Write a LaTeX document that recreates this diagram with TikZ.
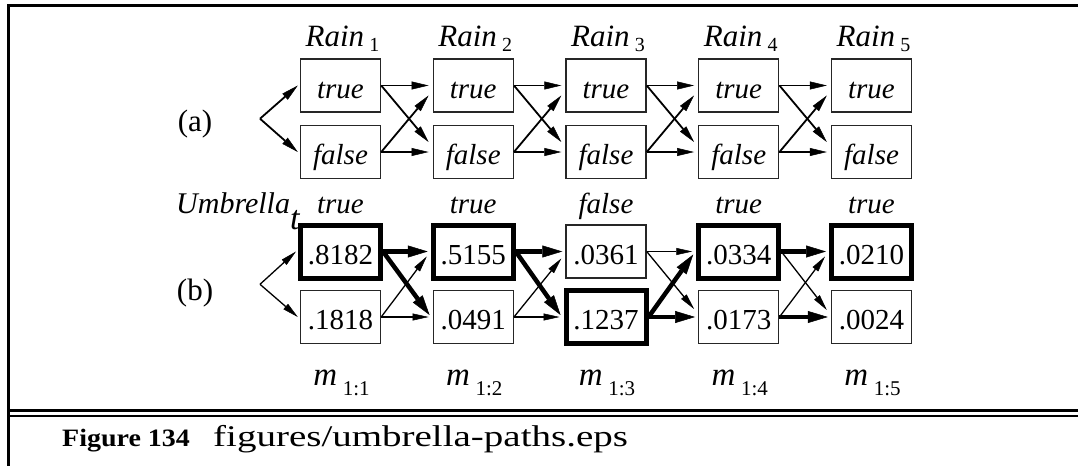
\documentclass[tikz,border=0pt]{standalone}
\usepackage{fontspec}
\setmainfont{Liberation Serif}
\newfontfamily\capfont[FakeStretch=1.3]{Liberation Serif}
\newfontfamily\figfont[FakeStretch=1.12]{Liberation Serif}
\usetikzlibrary{arrows.meta}
\newcommand{\lowsub}[3]{\raisebox{-#1}{\fontsize{#2}{#2}\selectfont #3}}
\tikzset{
  every node/.append style={font=\fontsize{29}{32}\selectfont},
  box/.style={draw=black!85, line width=1.4pt, minimum width=80pt, minimum height=53pt,
    inner sep=0pt, text height=25.4pt, text depth=0pt},
  thickbox/.style={box, draw=black, line width=5pt},
  arr/.style={line width=1.8pt, -{Triangle[length=17pt,width=8pt,line width=0.5pt]}},
  thinarr/.style={line width=1.3pt, -{Triangle[length=16pt,width=7pt,line width=0.5pt]}},
  fatarr/.style={line width=4.5pt, -{Triangle[length=20pt,width=12pt,line width=0.5pt]}},
  frame/.style={line width=2.7pt},
  lbl/.style={anchor=base, inner sep=0pt},
  biglbl/.style={lbl, font=\fontsize{31}{34}\selectfont}
}
\begin{document}
\begin{tikzpicture}[x=1pt,y=-1pt]
\useasboundingbox (0,0) rectangle (1078,466);
% frame
\draw[frame] (7,5.3) -- (1078,5.3);
\draw[frame] (8.5,4) -- (8.5,466);
\draw[line width=2.5pt] (8.5,410.3) -- (1078,410.3);
\draw[line width=2pt] (8.5,416) -- (1078,416);

% (a) part
\node[biglbl] (la) at (195,131.4) {(a)};
\foreach \i/\x in {1/340.5, 2/473.25, 3/606, 4/738.75, 5/871.5} {
  \node[biglbl] (rain\i) at (\x+2,46.5) {\textit{Rain}\,\lowsub{5pt}{20}{\i}};
  \node[box] (t\i) at (\x,85.5) {\textit{true}};
  \node[box] (f\i) at (\x,152) {\textit{false}};
}
\coordinate (sa) at (260,118.7);
\draw[arr] (sa) -- ([xshift=-2pt]t1.west);
\draw[arr] (sa) -- ([xshift=-2pt]f1.west);
\foreach \i/\j in {1/2,2/3,3/4,4/5} {
  \draw[arr] (t\i.east) -- ([xshift=-4pt]t\j.west);
  \draw[arr] (f\i.east) -- ([xshift=-4pt]f\j.west);
  \draw[arr] (t\i.east) -- ([xshift=-4pt,yshift=10pt]f\j.west);
  \draw[arr] (f\i.east) -- ([xshift=-4pt,yshift=-10pt]t\j.west);
}

% (b) part
\node[anchor=base west, inner sep=0pt, font=\fontsize{30}{32}\selectfont] (umb) at (176,213.3) {\textit{Umbrella}\lowsub{16pt}{34}{\textit{t}}};
\node[lbl] (u1) at (340.5,213.3) {\textit{true}};
\node[lbl] (u2) at (473.25,213.3) {\textit{true}};
\node[lbl] (u3) at (606,213.3) {\textit{false}};
\node[lbl] (u4) at (738.75,213.3) {\textit{true}};
\node[lbl] (u5) at (871.5,213.3) {\textit{true}};
\node[biglbl] (lb) at (195,300) {(b)};

\node[thickbox] (a1) at (340.5,251.5) {.8182};
\node[box]      (b1) at (340.5,317) {.1818};
\node[thickbox] (a2) at (473.25,251.5) {.5155};
\node[box]      (b2) at (473.25,317) {.0491};
\node[box]      (a3) at (606,251.5) {.0361};
\node[thickbox] (b3) at (606,317) {.1237};
\node[thickbox] (a4) at (738.75,251.5) {.0334};
\node[box]      (b4) at (738.75,317) {.0173};
\node[thickbox] (a5) at (871.5,251.5) {.0210};
\node[box]      (b5) at (871.5,317) {.0024};

\coordinate (sb) at (260,284.3);
\draw[thinarr] (sb) -- ([xshift=-2pt]a1.west);
\draw[thinarr] (sb) -- ([xshift=-2pt]b1.west);

% 1 -> 2
\draw[fatarr]  (a1.east) -- ([xshift=-3pt]a2.west);
\draw[fatarr]  (a1.east) -- ([xshift=-3pt,yshift=2pt]b2.west);
\draw[thinarr] (b1.east) -- ([xshift=-4pt,yshift=-5pt]a2.west);
\draw[thinarr] (b1.east) -- ([xshift=-4pt]b2.west);
% 2 -> 3
\draw[fatarr]  (a2.east) -- ([xshift=-3pt]a3.west);
\draw[fatarr]  (a2.east) -- ([xshift=-3pt,yshift=2pt]b3.west);
\draw[thinarr] (b2.east) -- ([xshift=-4pt,yshift=-7pt]a3.west);
\draw[thinarr] (b2.east) -- ([xshift=-4pt]b3.west);
% 3 -> 4
\draw[thinarr] (a3.east) -- ([xshift=-4pt]a4.west);
\draw[thinarr] (a3.east) -- ([xshift=-4pt,yshift=8pt]b4.west);
\draw[fatarr]  (b3.east) -- ([xshift=-3pt,yshift=-3pt]a4.west);
\draw[fatarr]  (b3.east) -- ([xshift=-3pt]b4.west);
% 4 -> 5
\draw[fatarr]  (a4.east) -- ([xshift=-3pt]a5.west);
\draw[thinarr] (a4.east) -- ([xshift=-4pt,yshift=7pt]b5.west);
\draw[thinarr] (b4.east) -- ([xshift=-4pt,yshift=-5pt]a5.west);
\draw[fatarr]  (b4.east) -- ([xshift=-3pt]b5.west);

\foreach \i/\x in {1/340.5, 2/473.25, 3/606, 4/738.75, 5/871.5} {
  \node[lbl, font=\fontsize{33}{35}\selectfont] (m\i) at (\x+1,385.3) {\textit{m}\,\lowsub{10pt}{21}{1:\i}};
}

% caption
\node[anchor=base west, inner sep=0pt, font=\figfont\bfseries\fontsize{25}{27}\selectfont] (fig) at (62,446.6) {Figure 134};
\node[anchor=base west, inner sep=0pt, font=\capfont\fontsize{30}{34}\selectfont] (cap) at (213,446.6) {figures/umbrella-paths.eps};
\end{tikzpicture}
\end{document}
